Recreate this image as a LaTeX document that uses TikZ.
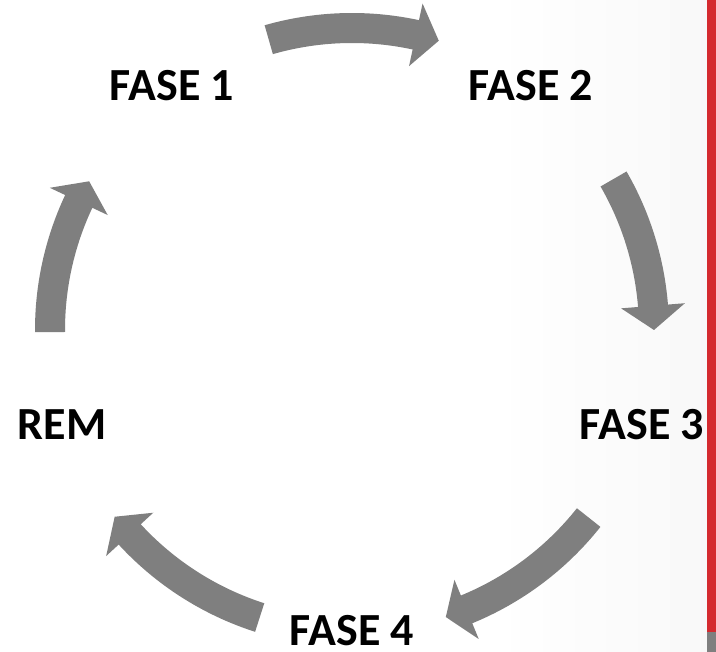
\documentclass[tikz,border=0pt]{standalone}
\usepackage{fontspec}
\setmainfont{Carlito}
\definecolor{arrowgray}{HTML}{7F7F7F}
\definecolor{barred}{HTML}{D42A2F}
\pgfdeclarehorizontalshading{slidebg}{100bp}{%
  color(0bp)=(white); color(60bp)=(white); color(100bp)=(black!7)}
\begin{document}
\begin{tikzpicture}[
  phase/.style={font=\fontsize{46}{54}\selectfont\bfseries, text=black, inner sep=0pt},
  cyclearrow/.style={fill=arrowgray}
]
% page frame, origin at the centre of the cycle
\useasboundingbox (-352pt,-322pt) rectangle (364pt,330pt);
\shade[shading=slidebg] (-352pt,-322pt) rectangle (355pt,330pt);
% side bar on the right edge
\fill[barred] (355pt,-302pt) rectangle (364pt,330pt);
\fill[arrowgray] (355pt,-322pt) rectangle (364pt,-302pt);

% curved block arrows: tail angle / head base angle / tip angle
\foreach \t/\b/\p in {106/77.8/73.3, 30/4.6/0, -38.4/-67.7/-71.9,
                      -107.8/-137.4/-141.8, 180.4/154.8/150.5} {
  \fill[cyclearrow] (\t:317pt) arc[start angle=\t, end angle=\b, radius=317pt]
    -- (\b:334pt) -- (\p:302pt) -- (\b:270pt) -- (\b:287pt)
    arc[start angle=\b, end angle=\t, radius=287pt] -- cycle;
}

% phase labels
\node[phase] (f1)  at (-180pt, 244pt) {FASE 1};
\node[phase] (f2)  at ( 179pt, 244pt) {FASE 2};
\node[phase] (f3)  at ( 290pt, -95pt) {FASE 3};
\node[phase] (f4)  at (   0pt,-301pt) {FASE 4};
\node[phase] (rem) at (-290pt, -95pt) {REM};
\end{tikzpicture}
\end{document}
